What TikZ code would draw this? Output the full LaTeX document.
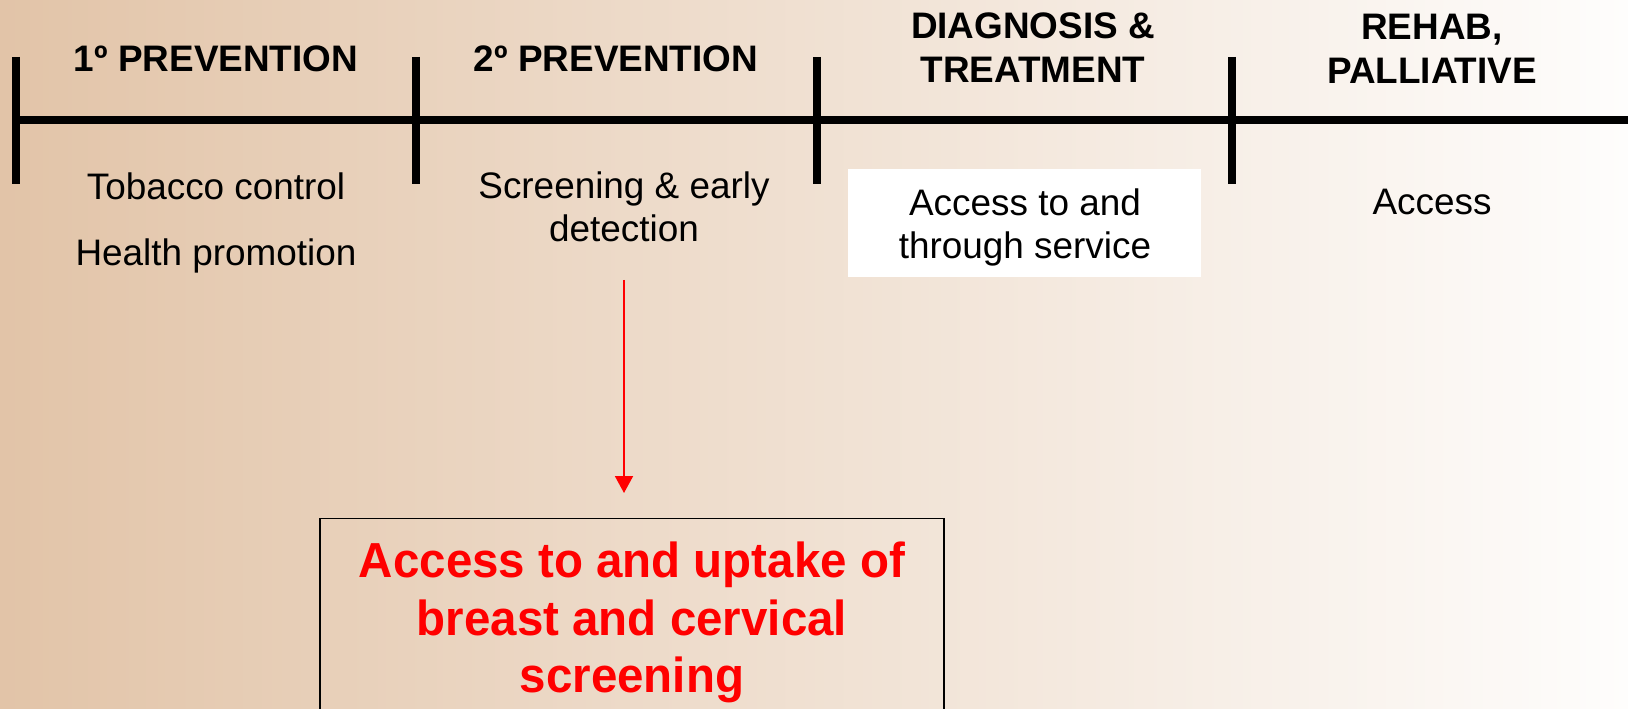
\documentclass[tikz,border=0pt]{standalone}
\usepackage{fontspec}
\setmainfont{Liberation Sans}
\newfontfamily\boxfont[FakeStretch=0.965]{Liberation Sans}
\usetikzlibrary{arrows.meta}

\definecolor{bgleft}{RGB}{226,196,168}
\definecolor{bgright}{RGB}{254,253,252}

\tikzset{
    phase/.style={font=\fontsize{21}{25}\selectfont\bfseries, align=center},
    item/.style={font=\fontsize{21}{24.5}\selectfont, align=center},
    tick/.style={line width=0.16cm},
    arr/.style={red, line width=1.1pt, -{Triangle[length=0.34cm,width=0.36cm]}}
}

\begin{document}
\begin{tikzpicture}[x=0.02cm,y=-0.02cm]
    \useasboundingbox (0,0) rectangle (1628,709);
    \begin{scope}
    \clip (0,0) rectangle (1628,709);

    % Draw the background
    \shade[left color=bgleft, right color=bgright] (0,0) rectangle (1628,709);

    % Draw the time line and its ticks
    \draw[tick] (16,120) -- (1640,120);
    \foreach \x in {16,416,817,1232}
        \draw[tick] (\x,57) -- (\x,184);

    % Add the phase headings above the line
    \node[phase] (prim) at (216,59) {1º PREVENTION};
    \node[phase] (sec) at (616,59) {2º PREVENTION};
    \node[phase] (diag) at (1033,48) {DIAGNOSIS \&\\TREATMENT};
    \node[phase] (rehab) at (1432,49) {REHAB,\\PALLIATIVE};

    % Add what each phase covers below the line
    \node[item] (tob) at (216,186) {Tobacco control};
    \node[item] (hea) at (216,256) {Health promotion};
    \node[item] (scr) at (624,207) {Screening \& early\\detection};
    \node[fill=white, inner sep=0pt, minimum width=7.06cm, minimum height=2.16cm] (accbox) at (1024.5,223) {};
    \node[item] (acc) at (1025,227) {Access to and\\through service};
    \node[item] (accr) at (1432,202) {Access};

    % Draw the box with the focus
    \node[draw, line width=0.8pt, inner sep=0pt, anchor=north, minimum width=12.48cm, minimum height=4.15cm,
          text=red, align=center, font=\boxfont\fontsize{28}{32.7}\selectfont\bfseries] (uptake) at (632,518)
          {Access to and uptake of\\breast and cervical\\screening};

    % Arrow from screening down to the box
    \coordinate (arrtop) at (624,280);
    \draw[arr, shorten >=0.5cm] (arrtop) -- (arrtop |- uptake.north);
    \end{scope}
\end{tikzpicture}
\end{document}
